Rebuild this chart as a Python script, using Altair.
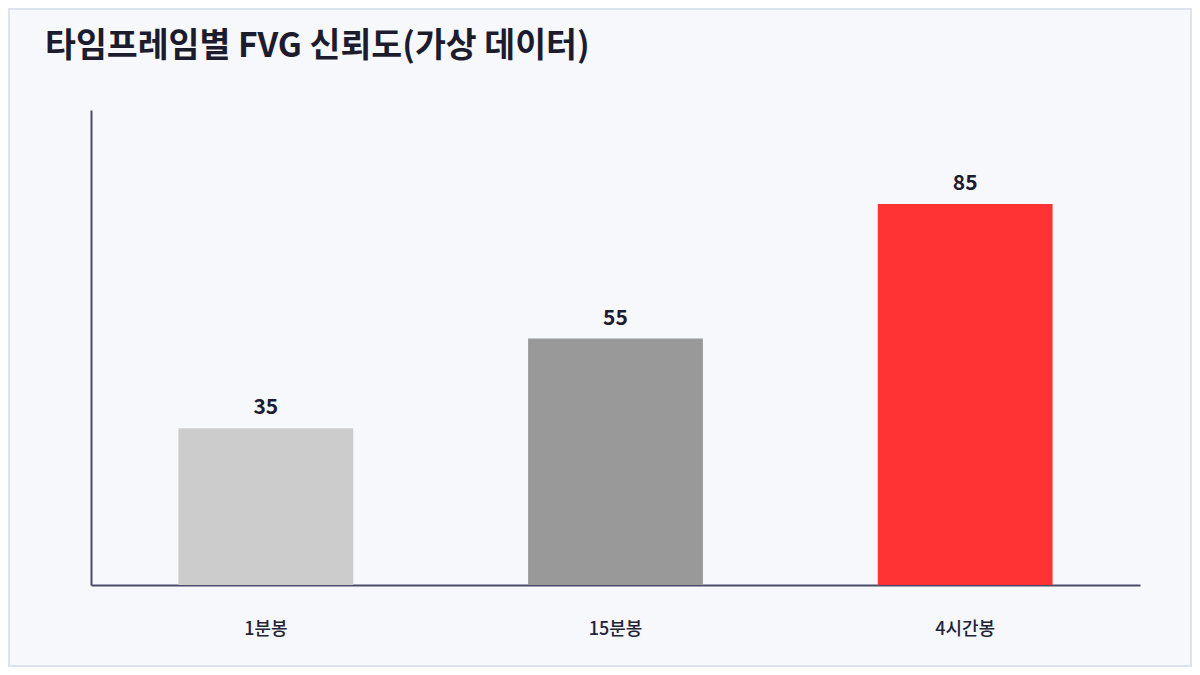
import altair as alt
import pandas as pd

categories = ["1분봉", "15분봉", "4시간봉"]
values = [35, 55, 85]
colors = ["#cccccc", "#999999", "#ff3333"]

df = pd.DataFrame({"cat": categories, "val": values, "color": colors})

FONT = "Noto Sans CJK KR"

base = alt.Chart(df).encode(
    x=alt.X("cat:N", sort=categories, title=None,
            scale=alt.Scale(paddingInner=0.5, paddingOuter=0.25),
            axis=alt.Axis(labelAngle=0, ticks=False, labelPadding=35,
                          labelFontSize=18, labelFontWeight=500, labelColor="#23233a",
                          labelFont=FONT,
                          domainColor="#4b4a6b", domainWidth=2, labelBaseline="top")),
)

bars = base.mark_bar().encode(
    y=alt.Y("val:Q", title=None, scale=alt.Scale(domain=[0, 106], nice=False),
            axis=alt.Axis(labels=False, ticks=False, grid=False,
                          domainColor="#4b4a6b", domainWidth=2)),
    color=alt.Color("color:N", scale=None),
)

labels = base.mark_text(dy=-14, baseline="alphabetic", fontSize=21, fontWeight="bold",
                        font=FONT, color="#1c1c2e").encode(
    y=alt.Y("val:Q"),
    text=alt.Text("val:Q"),
)

frame = alt.Chart(df).mark_rect(fill="transparent", stroke="#dde3ec", strokeWidth=2).encode(
    x=alt.value(-82), x2=alt.value(1100), y=alt.value(-101), y2=alt.value(556)
).transform_filter(alt.datum.cat == "1분봉")

chart = alt.layer(frame, bars, labels).properties(
    width=1049, height=475,
    autosize=alt.AutoSizeParams(type="none"),
    padding={"left": 83, "top": 102, "right": 52, "bottom": 82},
    background="#f7f8fc",
    title=alt.Title("타임프레임별 FVG 신뢰도(가상 데이터)", anchor="start", frame="group",
                    dx=-46, offset=0, dy=56, fontSize=33.6, fontWeight="bold", font=FONT,
                    color="#1c1c2e"),
).configure_view(stroke=None)

chart.save("out.html", embed_options={"renderer": "svg", "actions": False})
